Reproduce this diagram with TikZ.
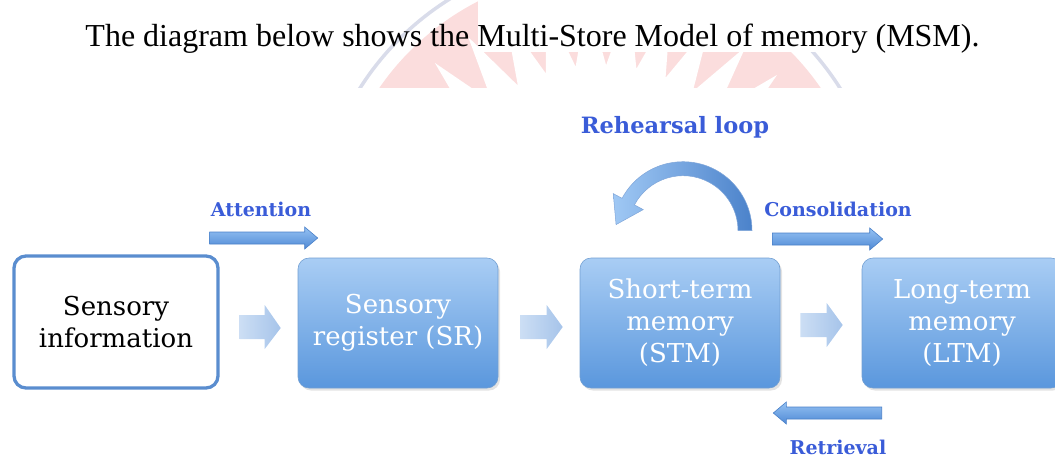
\documentclass[tikz,border=0pt]{standalone}
\usepackage{fontspec}
\setmainfont{Liberation Serif}
\newfontfamily\boxfont{DejaVu Serif}
\usetikzlibrary{calc,shadows}

\definecolor{boxtop}{HTML}{A9CDF4}
\definecolor{boxbot}{HTML}{5A97DD}
\definecolor{labelblue}{HTML}{3A5CD8}
\definecolor{siedge}{HTML}{5A8DCF}
\definecolor{arrtop}{HTML}{95C2F3}
\definecolor{arrbot}{HTML}{4F89D5}
\definecolor{arredge}{HTML}{4A80C8}
\definecolor{stepl}{HTML}{CCDEF4}
\definecolor{stepr}{HTML}{A6C4EA}
\definecolor{wmpink}{HTML}{FBDDDD}
\definecolor{wmring}{HTML}{D9DCEA}

% horizontal block arrow: style, tail, tip, shaft half-width, head half-width, head length
\newcommand\blockarrow[6]{%
  \path[#1] let \p1=(#2), \p2=(#3), \p3=($(#3)!#6!(#2)$) in
    (\x1,\y1+#4) -- (\x3,\y1+#4) -- (\x3,\y1+#5) -- (\x2,\y2)
    -- (\x3,\y1-#5) -- (\x3,\y1-#4) -- (\x1,\y1-#4) -- cycle;}

\tikzset{
  store/.style={rounded corners=11pt, minimum width=200pt, minimum height=130pt,
    align=center, inner sep=0pt, text=white,
    top color=boxtop, bottom color=boxbot, draw=boxbot!85!black!60!boxtop, line width=0.6pt,
    drop shadow={opacity=0.22, shadow xshift=2pt, shadow yshift=-2.5pt},
    font=\boxfont\fontsize{26}{32}\selectfont},
  source/.style={rounded corners=12pt, minimum width=204pt, minimum height=132pt,
    align=center, inner sep=0pt, fill=white, draw=siedge, line width=3.3pt,
    font=\boxfont\fontsize{26}{32}\selectfont},
  flowlabel/.style={text=labelblue, font=\boxfont\bfseries\fontsize{19}{22}\selectfont},
  flowarrow/.style={top color=arrtop, bottom color=arrbot, draw=arredge, line width=0.6pt},
  stagearrow/.style={left color=stepl, right color=stepr},
  loopshape/.style={left color=arrtop!90!white, right color=arrbot!95!black, draw=arredge!70, line width=0.5pt}
}

\begin{document}
\begin{tikzpicture}[x=1pt,y=-1pt]
\useasboundingbox (0,0) rectangle (1055,459);

% faint seal behind the heading
\begin{scope}
  \clip (0,0) rectangle (1055,87);
  \fill[wmpink] (600,240) circle[radius=268];
  \fill[white] plot[domain=0:71, samples=72, variable=\k]
    ({600+(175+67*mod(\k,2))*cos(\k*5+2)}, {240+(175+67*mod(\k,2))*sin(\k*5+2)}) -- cycle;
  \draw[wmring, line width=3.5pt] (600,240) circle[radius=284];
\end{scope}
\fill[white] (478,0) rectangle (985,52);

% heading
\node[anchor=base, font=\fontsize{32}{38}\selectfont, inner sep=0pt] (title) at (532.5,46)
  {The diagram below shows the Multi-Store Model of memory (MSM).};

% stores
\node[source] (si) at (116,322) {Sensory\\information};
\node[store] (sr) at (398,323) {Sensory\\register (SR)};
\node[store] (stm) at (680,323) {Short-term\\memory\\(STM)};
\node[store] (ltm) at (962,323) {Long-term\\memory\\(LTM)};

% stage arrows between the stores
\coordinate (s1a) at ($(si.east)+(20,5)$);
\coordinate (s1b) at ($(sr.west)+(-17,5)$);
\coordinate (s2a) at ($(sr.east)+(22,4)$);
\coordinate (s2b) at ($(stm.west)+(-17,4)$);
\coordinate (s3a) at ($(stm.east)+(20,2)$);
\coordinate (s3b) at ($(ltm.west)+(-19,2)$);
\blockarrow{stagearrow}{s1a}{s1b}{12pt}{22pt}{16pt}
\blockarrow{stagearrow}{s2a}{s2b}{12pt}{22pt}{16pt}
\blockarrow{stagearrow}{s3a}{s3b}{12pt}{22pt}{16pt}

% attention
\coordinate (attA) at ($(si.east)+(-10,-84)$);
\coordinate (attB) at ($(sr.west)+(20,-85)$);
\blockarrow{flowarrow}{attA}{attB}{6pt}{11pt}{13pt}
\node[flowlabel] (att) at (261,209) {Attention};

% consolidation
\coordinate (conA) at ($(stm.east)+(-8,-84)$);
\coordinate (conB) at ($(ltm.west)+(21,-84)$);
\blockarrow{flowarrow}{conA}{conB}{6pt}{11pt}{13pt}
\node[flowlabel] (con) at (838,209) {Consolidation};

% retrieval
\coordinate (retA) at ($(ltm.west)+(20,90)$);
\coordinate (retB) at ($(stm.east)+(-7,90)$);
\blockarrow{flowarrow}{retA}{retB}{6pt}{11pt}{13pt}
\node[flowlabel] (ret) at (838,447) {Retrieval};

% rehearsal loop
\coordinate (lc) at ($(stm.north)+(3,-27)$);
\coordinate (loopTip) at ($(lc)+(-152:62)+(-12.2,23)$);
\path[loopshape]
  ($(lc)+(0:69)$) arc[start angle=0, end angle=-152, radius=69]
  -- ($(lc)+(-152:79)$) -- (loopTip) -- ($(lc)+(-152:45)$)
  -- ($(lc)+(-152:55)$) arc[start angle=-152, end angle=0, radius=55] -- cycle;
\node[text=labelblue, font=\boxfont\bfseries\fontsize{22.5}{26}\selectfont] (reh) at (675,127) {Rehearsal loop};
\end{tikzpicture}
\end{document}
